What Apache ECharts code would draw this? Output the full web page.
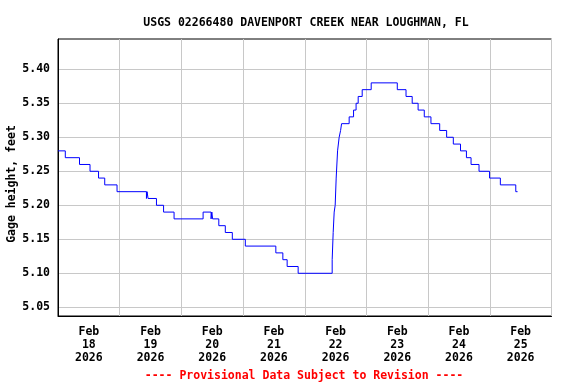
<!DOCTYPE html>
<html>
<head>
<meta charset="utf-8">
<script src="https://cdn.jsdelivr.net/npm/echarts@6/dist/echarts.min.js"></script>
<style>html,body{margin:0;padding:0;background:#fff}#c{width:576px;height:384px}</style>
</head>
<body>
<div id="c"></div>
<script>
// Hours since Feb 18 2026 00:00 at which the gage height changes, and the new level
var changeHours = [0, 2.84, 8.37, 12.46, 15.77, 18.18, 22.97, 34.41, 34.65, 35.04, 38.31, 41.07, 45.16, 56.45, 59.56, 59.85, 60.15, 62.56, 65.09, 67.82, 72.88, 84.75, 87.48, 89.15, 93.43, 106.67, 107.06, 107.45, 107.84, 108.23, 108.77, 109.39, 109.94, 110.33, 113.28, 114.99, 115.97, 116.79, 118.35, 121.85, 132.0, 135.4, 137.8, 140.1, 142.5, 145.1, 148.5, 151.2, 153.8, 156.6, 158.9, 160.7, 163.8, 167.9, 172.1, 178.1];
var levels = [5.28, 5.27, 5.26, 5.25, 5.24, 5.23, 5.22, 5.21, 5.22, 5.21, 5.20, 5.19, 5.18, 5.19, 5.18, 5.19, 5.18, 5.17, 5.16, 5.15, 5.14, 5.13, 5.12, 5.11, 5.10, 5.12, 5.16, 5.19, 5.20, 5.24, 5.28, 5.30, 5.31, 5.32, 5.33, 5.34, 5.35, 5.36, 5.37, 5.38, 5.37, 5.36, 5.35, 5.34, 5.33, 5.32, 5.31, 5.30, 5.29, 5.28, 5.27, 5.26, 5.25, 5.24, 5.23, 5.22];
var lastHour = 178.8;
var dayLabels = ['18', '19', '20', '21', '22', '23', '24', '25'];
var dayLabelHours = [12, 36, 60, 84, 108, 132, 156, 180];
var yTicks = [5.05, 5.10, 5.15, 5.20, 5.25, 5.30, 5.35, 5.40];

var pts = [];
for (var i = 0; i < changeHours.length; i++) {
  if (i > 0) pts.push([changeHours[i], levels[i - 1]]);
  pts.push([changeHours[i], levels[i]]);
}
pts.push([lastHour, levels[levels.length - 1]]);

var FONT = 'DejaVu Sans Mono';
var chart = echarts.init(document.getElementById('c'), null, {renderer: 'canvas'});
chart.setOption({
  animation: false,
  backgroundColor: '#fff',
  title: [{
    text: 'USGS 02266480 DAVENPORT CREEK NEAR LOUGHMAN, FL',
    left: 301, textAlign: 'center', top: 12,
    textStyle: {fontFamily: FONT, fontWeight: 'bold', fontSize: 11.5, color: '#000'}
  }, {
    text: '---- Provisional Data Subject to Revision ----',
    left: 299, textAlign: 'center', top: 365,
    textStyle: {fontFamily: FONT, fontWeight: 'bold', fontSize: 11.5, color: '#ff0000'}
  }],
  grid: {left: 58, top: 39, right: 24.5, bottom: 68, outerBoundsMode: 'none', containLabel: false,
    show: true, borderColor: '#000', borderWidth: 1, backgroundColor: 'transparent'},
  xAxis: {
    type: 'value', min: 0, max: 192, interval: 24,
    axisLine: {show: true, lineStyle: {color: '#000', width: 1}},
    axisTick: {show: false},
    splitLine: {show: true, lineStyle: {color: '#c8c8c8', width: 1}},
    axisLabel: {
      customValues: dayLabelHours,
      margin: 10, lineHeight: 12.8,
      fontFamily: FONT, fontWeight: 'bold', fontSize: 11.5, color: '#000',
      formatter: function (v) {
        var idx = dayLabelHours.indexOf(v);
        return 'Feb\n' + dayLabels[idx] + '\n2026';
      }
    }
  },
  yAxis: {
    type: 'value', min: 5.0372, max: 5.4445,
    name: 'Gage height, feet', nameLocation: 'middle', nameRotate: 90, nameGap: 40, nameMoveOverlap: false,
    nameTextStyle: {fontFamily: FONT, fontWeight: 'bold', fontSize: 11.5, color: '#000', padding: [0, 13, 0, 0]},
    axisLine: {show: true, lineStyle: {color: '#000', width: 1}},
    axisTick: {show: false, customValues: yTicks},
    splitLine: {show: true, lineStyle: {color: '#c8c8c8', width: 1}},
    axisLabel: {
      customValues: yTicks, margin: 8,
      fontFamily: FONT, fontWeight: 'bold', fontSize: 11.5, color: '#000',
      formatter: function (v) { return v.toFixed(2); }
    }
  },
  series: [{
    type: 'line', data: pts, symbol: 'none', clip: true,
    lineStyle: {color: '#0000ff', width: 1}
  }]
});
</script>
</body>
</html>
